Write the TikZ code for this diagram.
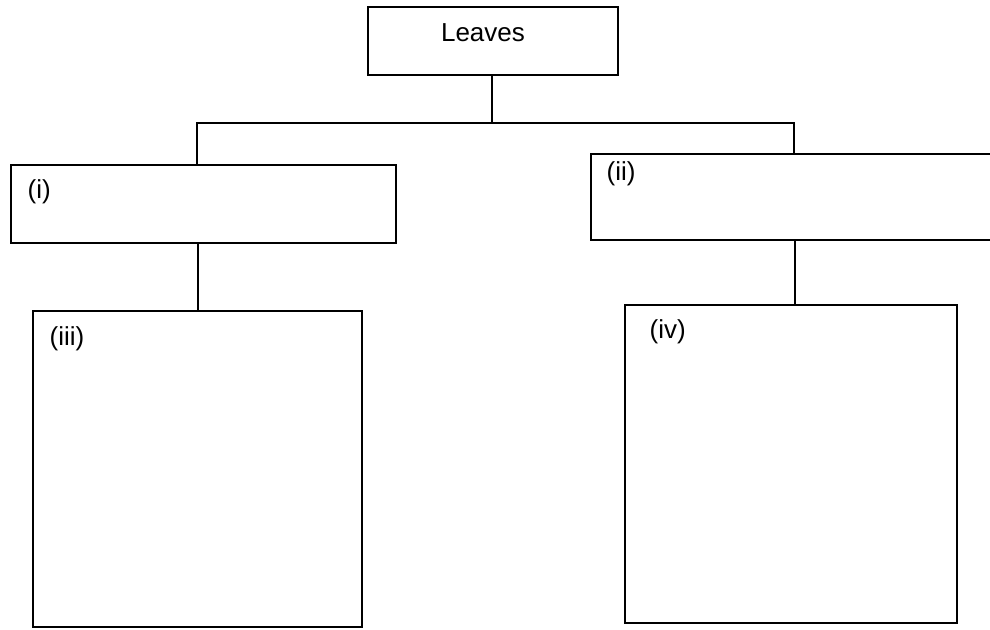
\documentclass[tikz,border=0pt]{standalone}
\usepackage{fontspec}
\setmainfont{Liberation Sans}
\usetikzlibrary{positioning,calc}

\tikzset{
  rectbox/.style args={#1,#2}{
  draw=black,
  line width=0.8pt,
  inner sep=0pt,
  minimum width=#1*0.5pt,
  minimum height=#2*0.5pt,
  },
  tag/.style={anchor=west,inner sep=0pt,font=\fontsize{13}{15}\selectfont},
  link/.style={line width=0.8pt}
}

\begin{document}
\begin{tikzpicture}[x=0.5pt,y=-0.5pt]
  \useasboundingbox (0,0) rectangle (990,630);

  \node [rectbox={250,68}] (leaves) at (493,41) {};
  \node [rectbox={385,78}] (i) at (203.5,204) {};
  \node [rectbox={412,86}] (ii) at (797,197) {};
  \node [rectbox={329,316}] (iii) at (197.5,469) {};
  \node [rectbox={332,318}] (iv) at (791,464) {};

  \node [tag,anchor=base] (leavestxt) at ($(leaves.north)+(-10,35)$) {Leaves};
  \node [tag] (ti) at ($(i.north west)+(17,28)$) {(i)};
  \node [tag] (tii) at ($(ii.north west)+(16,21)$) {(ii)};
  \node [tag] (tiii) at ($(iii.north west)+(17,29)$) {(iii)};
  \node [tag] (tiv) at ($(iv.north west)+(25,28)$) {(iv)};

  \coordinate (barL) at (197,123);
  \coordinate (barR) at (794,123);
  \coordinate (stemL) at (198,0);
  \coordinate (stemR) at (795,0);

  \draw [link] (leaves.south -| 492,0) -- (492,123);
  \draw [link] (i.north -| barL) -- (barL) -- (barR) -- (ii.north -| barR);
  \draw [link] (i.south -| stemL) -- (iii.north -| stemL);
  \draw [link] (ii.south -| stemR) -- (iv.north -| stemR);
\end{tikzpicture}
\end{document}
